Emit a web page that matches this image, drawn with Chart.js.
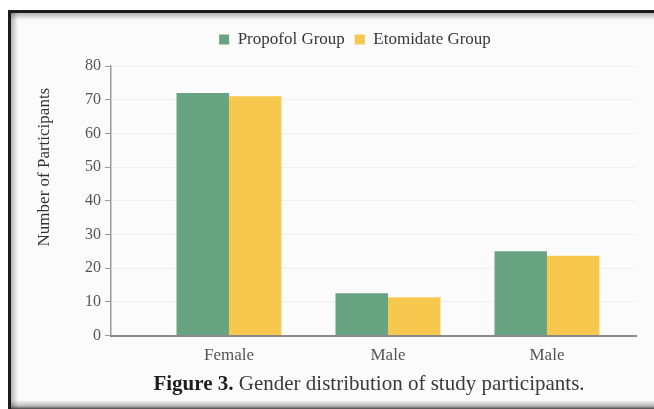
<!DOCTYPE html>
<html>
<head>
<meta charset="utf-8">
<script src="https://cdn.jsdelivr.net/npm/chart.js@4/dist/chart.umd.min.js"></script>
<style>
  html, body { margin: 0; padding: 0; background: #ffffff; overflow: hidden; }
  body { width: 654px; height: 409px; position: relative; }
  #frame {
    position: absolute; left: 8px; top: 10px; width: 720px; height: 396px;
    border-left: 3px solid #1c1c1c; border-top: 3px solid #1c1c1c;
    background:
      linear-gradient(to top, rgba(40,40,40,0.85) 0, rgba(60,60,60,0.35) 3px, rgba(0,0,0,0) 9px),
      linear-gradient(to right, rgba(0,0,0,0.28) 0, rgba(0,0,0,0) 7px),
      linear-gradient(to bottom, rgba(0,0,0,0.28) 0, rgba(0,0,0,0) 7px),
      #fbfbfb;
  }
  #chartBox { position: absolute; left: 0; top: 0; width: 654px; height: 381px; }
  #caption {
    position: absolute; left: 100px; width: 538px; top: 371px;
    text-align: center; font-family: "Liberation Serif", serif; font-size: 21px;
    line-height: 24px; color: #3a3a3a;
  }
  #caption b { color: #1e1e1e; }
</style>
</head>
<body>
<div id="frame"></div>
<div id="chartBox"><canvas id="chart"></canvas></div>
<div id="caption"><b>Figure 3.</b> Gender distribution of study participants.</div>
<script>
// Participants per gender category in each anaesthesia group
const categories = ['Female', 'Male', 'Male'];
const propofolGroup = [72, 12.6, 25];
const etomidateGroup = [71, 11.4, 23.7];
const yTicks = [0, 10, 20, 30, 40, 50, 60, 70, 80];
const yTitle = 'Number of Participants';

const serif = '"Liberation Serif", "Times New Roman", serif';

// Legend: a little extra room below it, and centred over the plot rather than the canvas
const legendPlacement = {
  id: 'legendPlacement',
  beforeInit(chart) {
    const fit = chart.legend.fit;
    chart.legend.fit = function () {
      fit.call(this);
      this.height += 8;
    };
  },
  afterLayout(chart) {
    chart.legend.left += 37;
    chart.legend.right += 37;
  }
};

// Rotated y-axis title, set a little above the plot's middle
const yAxisTitle = {
  id: 'yAxisTitle',
  afterDraw(chart) {
    const ctx = chart.ctx;
    const area = chart.chartArea;
    ctx.save();
    ctx.translate(45, area.top + (area.bottom - area.top) * 0.375);
    ctx.rotate(-Math.PI / 2);
    ctx.font = '17px ' + serif;
    ctx.fillStyle = '#333333';
    ctx.textAlign = 'center';
    ctx.textBaseline = 'middle';
    ctx.fillText(yTitle, 0, 0);
    ctx.restore();
  }
};

new Chart(document.getElementById('chart'), {
  type: 'bar',
  data: {
    datasets: [
      {
        label: 'Propofol Group',
        data: propofolGroup.map((v, i) => ({ x: i, y: v })),
        backgroundColor: '#69a482',
        borderWidth: 0,
        categoryPercentage: 0.66,
        barPercentage: 1.0
      },
      {
        label: 'Etomidate Group',
        data: etomidateGroup.map((v, i) => ({ x: i, y: v })),
        backgroundColor: '#f6c94e',
        borderWidth: 0,
        categoryPercentage: 0.66,
        barPercentage: 1.0
      }
    ]
  },
  plugins: [legendPlacement, yAxisTitle],
  options: {
    responsive: true,
    maintainAspectRatio: false,
    animation: false,
    layout: { padding: { top: 21, right: 18, bottom: 5, left: 0 } },
    plugins: {
      legend: {
        position: 'top',
        labels: {
          boxWidth: 10, boxHeight: 10, padding: 10,
          color: '#383838',
          font: { family: serif, size: 17 }
        }
      },
      tooltip: { enabled: false }
    },
    scales: {
      x: {
        type: 'linear',
        offset: false,
        min: -0.742,
        max: 2.56,
        afterBuildTicks: (axis) => { axis.ticks = categories.map((_, i) => ({ value: i })); },
        ticks: {
          autoSkip: false, maxRotation: 0, padding: 10,
          color: '#555555',
          font: { family: serif, size: 17 },
          callback: (value) => categories[value]
        },
        grid: { display: false, drawTicks: false },
        border: { display: true, color: '#8a8a8a', width: 2 }
      },
      y: {
        min: 0,
        max: 80,
        afterBuildTicks: (axis) => { axis.ticks = yTicks.map(v => ({ value: v })); },
        afterFit: (axis) => { axis.width = 111; },
        ticks: {
          padding: 4,
          color: '#555555',
          font: { family: serif, size: 16 }
        },
        grid: {
          color: 'rgba(0,0,0,0.045)',
          tickColor: '#9a9a9a',
          tickLength: 6,
          lineWidth: 1
        },
        border: { display: true, color: '#9a9a9a', width: 1.5 }
      }
    }
  }
});
</script>
</body>
</html>
